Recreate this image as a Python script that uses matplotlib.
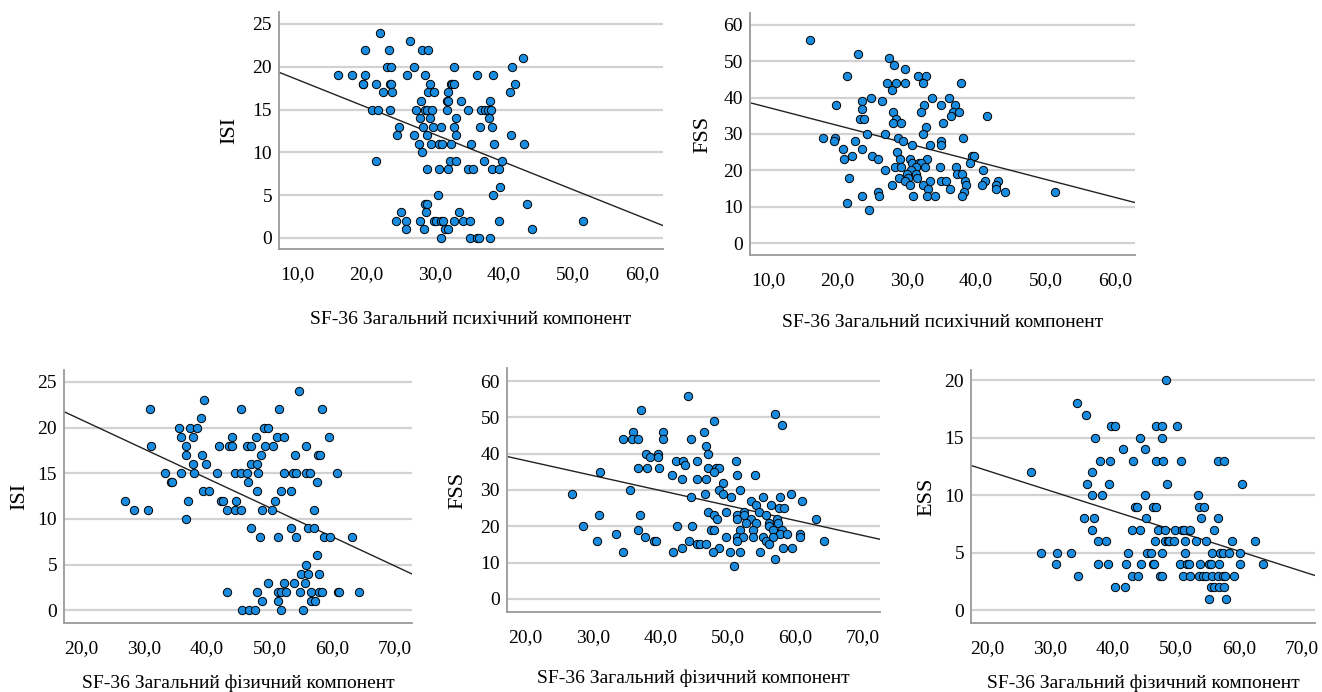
import numpy as np
import matplotlib.pyplot as plt
from matplotlib.ticker import FuncFormatter

plt.rcParams['font.family'] = ['Liberation Serif', 'DejaVu Serif']

# SF-36 mental component (x) vs ISI (y)
mcs_isi = [(22.0, 24), (26.4, 23), (19.9, 22), (23.3, 22), (28.1, 22), (29.0, 22), (42.8, 21),
           (23.0, 20), (23.6, 20), (26.9, 20), (32.8, 20), (41.2, 20),
           (16.0, 19), (18.0, 19), (19.8, 19), (25.9, 19), (28.6, 19), (36.1, 19), (38.4, 19),
           (19.5, 18), (19.6, 18), (21.4, 18), (23.4, 18), (23.6, 18), (29.2, 18), (32.3, 18),
           (32.5, 18), (32.8, 18), (41.5, 18),
           (22.5, 17), (23.7, 17), (29.0, 17), (29.8, 17), (31.9, 17), (40.8, 17),
           (28.0, 16), (31.7, 16), (31.9, 16), (33.7, 16), (38.0, 16),
           (20.8, 15), (21.8, 15), (23.5, 15), (27.2, 15), (28.6, 15), (28.9, 15), (29.6, 15),
           (31.7, 15), (34.8, 15), (36.7, 15), (37.2, 15), (37.7, 15), (38.1, 15),
           (27.8, 14), (29.3, 14), (33.0, 14), (37.8, 14),
           (24.8, 13), (28.2, 13), (29.7, 13), (30.8, 13), (32.7, 13), (36.5, 13), (38.2, 13),
           (24.5, 12), (26.9, 12), (28.8, 12), (33.0, 12), (41.0, 12),
           (27.6, 11), (29.4, 11), (30.6, 11), (31.0, 11), (32.3, 11), (35.2, 11), (38.6, 11),
           (42.9, 11), (28.1, 10),
           (21.4, 9), (32.2, 9), (33.1, 9), (37.1, 9), (39.7, 9),
           (28.9, 8), (30.6, 8), (31.8, 8), (34.8, 8), (35.5, 8), (38.2, 8), (39.3, 8),
           (39.4, 6), (30.4, 5), (38.4, 5), (28.6, 4), (28.8, 4), (43.3, 4),
           (25.0, 3), (28.7, 3), (33.4, 3),
           (24.3, 2), (25.8, 2), (27.8, 2), (29.8, 2), (30.2, 2), (30.8, 2), (31.1, 2), (32.7, 2),
           (34.1, 2), (35.1, 2), (39.3, 2), (51.4, 2),
           (25.8, 1), (28.4, 1), (31.5, 1), (31.8, 1), (44.1, 1),
           (30.9, 0), (35.0, 0), (36.1, 0), (36.3, 0), (38.0, 0)]

# SF-36 mental component (x) vs FSS (y)
mcs_fss = [(16.0, 56), (23.0, 52), (27.5, 51), (28.2, 49), (29.7, 48), (21.4, 46), (31.6, 46),
           (32.7, 46), (27.2, 44), (28.5, 44), (29.7, 44), (32.3, 44), (37.8, 44), (27.8, 42),
           (24.8, 40), (33.7, 40), (36.1, 40), (23.6, 39), (26.4, 39),
           (19.8, 38), (32.5, 38), (34.9, 38), (37.0, 38), (23.5, 37),
           (28.0, 36), (32.0, 36), (36.7, 36), (37.5, 36), (36.4, 35), (41.5, 35),
           (23.3, 34), (23.8, 34), (28.5, 34), (28.0, 33), (29.1, 33), (35.2, 33), (32.8, 32),
           (24.3, 30), (26.9, 30), (32.3, 30),
           (17.9, 29), (19.6, 29), (28.75, 29), (38.1, 29),
           (19.5, 28), (22.6, 28), (29.4, 28), (35.0, 28),
           (30.8, 27), (33.4, 27), (35.0, 27), (20.8, 26), (23.5, 26), (28.6, 25),
           (22.1, 24), (25.0, 24), (39.4, 24), (39.7, 24),
           (20.9, 23), (25.8, 23), (29.0, 23), (30.4, 23), (32.9, 23),
           (30.7, 22), (31.8, 22), (32.0, 22), (39.1, 22),
           (28.3, 21), (29.2, 21), (31.4, 21), (32.6, 21), (34.8, 21), (37.1, 21),
           (26.9, 20), (30.6, 20), (41.0, 20),
           (30.0, 19), (31.3, 19), (37.2, 19), (38.0, 19),
           (21.7, 18), (28.9, 18), (30.2, 18), (31.5, 18),
           (29.7, 17), (33.4, 17), (35.0, 17), (35.6, 17), (38.4, 17), (41.25, 17), (43.2, 17),
           (27.8, 16), (30.5, 16), (32.4, 16), (38.6, 16), (40.8, 16), (42.8, 16),
           (33.1, 15), (36.2, 15), (42.8, 15),
           (25.9, 14), (38.2, 14), (44.1, 14), (51.3, 14),
           (23.5, 13), (26.0, 13), (30.9, 13), (32.9, 13), (34.0, 13), (38.0, 13),
           (21.4, 11), (24.5, 9)]

# SF-36 physical component (x) vs ISI (y)
pcs_isi = [(54.7, 24), (39.6, 23), (31.0, 22), (45.4, 22), (51.5, 22), (58.4, 22), (39.1, 21),
           (35.6, 20), (37.3, 20), (38.4, 20), (49.2, 20), (49.8, 20),
           (35.9, 19), (37.9, 19), (44.1, 19), (47.8, 19), (51.2, 19), (52.3, 19), (59.5, 19),
           (31.1, 18), (36.7, 18), (42.0, 18), (43.5, 18), (44.1, 18), (46.4, 18), (47.0, 18),
           (49.3, 18), (50.5, 18), (55.8, 18),
           (36.7, 17), (39.3, 17), (48.7, 17), (54.1, 17), (57.8, 17), (58.1, 17),
           (37.8, 16), (39.9, 16), (47.0, 16), (48.0, 16),
           (33.4, 15), (36.0, 15), (38.0, 15), (41.7, 15), (44.5, 15), (45.4, 15), (46.5, 15),
           (48.2, 15), (52.4, 15), (53.8, 15), (54.2, 15), (55.9, 15), (56.5, 15), (60.7, 15),
           (34.4, 14), (34.5, 14), (46.6, 14), (57.5, 14),
           (39.5, 13), (40.4, 13), (48.0, 13), (51.8, 13), (53.4, 13),
           (27.0, 12), (37.1, 12), (42.3, 12), (42.6, 12), (44.7, 12), (50.9, 12),
           (28.5, 11), (30.6, 11), (43.2, 11), (44.5, 11), (45.4, 11), (48.8, 11), (50.4, 11),
           (57.1, 11), (36.8, 10),
           (47.1, 9), (53.4, 9), (56.2, 9), (57.1, 9),
           (48.5, 8), (51.4, 8), (54.2, 8), (58.7, 8), (59.6, 8), (63.2, 8),
           (57.6, 6), (55.8, 5), (55.0, 4), (56.2, 4), (57.9, 4),
           (49.7, 3), (52.4, 3), (53.9, 3), (55.7, 3),
           (43.2, 2), (48.1, 2), (51.3, 2), (51.8, 2), (52.6, 2), (54.8, 2), (56.7, 2), (57.9, 2),
           (58.3, 2), (60.9, 2), (61.0, 2), (64.3, 2),
           (48.8, 1), (51.3, 1), (56.7, 1), (57.3, 1),
           (45.7, 0), (46.7, 0), (47.7, 0), (51.8, 0), (55.3, 0)]

# SF-36 physical component (x) vs FSS (y)
pcs_fss = [(44.1, 56), (37.1, 52), (57.0, 51), (47.9, 49), (58.0, 48),
           (36.0, 46), (40.4, 46), (46.4, 46),
           (34.4, 44), (35.8, 44), (36.7, 44), (40.4, 44), (44.5, 44), (46.7, 42),
           (37.8, 40), (39.6, 40), (47.1, 40), (38.4, 39), (39.7, 39),
           (42.3, 38), (43.4, 38), (45.4, 38), (51.2, 38), (43.7, 37),
           (36.7, 36), (38.0, 36), (39.8, 36), (47.1, 36), (48.3, 36), (48.7, 36),
           (31.1, 35), (47.9, 35), (41.7, 34), (51.4, 34), (54.0, 34),
           (43.2, 33), (45.4, 33), (46.8, 33), (49.2, 32),
           (35.5, 30), (48.7, 30), (51.8, 30),
           (26.9, 29), (46.6, 29), (49.2, 29), (59.4, 29),
           (44.5, 28), (50.4, 28), (55.2, 28), (57.7, 28),
           (53.4, 27), (60.9, 27), (54.2, 26), (56.3, 26), (57.6, 25), (58.3, 25),
           (47.1, 24), (49.7, 24), (52.4, 24), (54.6, 24),
           (30.9, 23), (37.0, 23), (47.9, 23), (51.3, 23), (52.4, 23), (55.7, 23),
           (48.4, 22), (51.4, 22), (53.4, 22), (57.3, 22), (63.1, 22),
           (52.6, 21), (54.1, 21), (56.1, 21), (57.4, 21),
           (28.5, 20), (42.5, 20), (44.7, 20), (56.0, 20),
           (36.7, 19), (47.5, 19), (48.0, 19), (51.8, 19), (53.7, 19), (56.7, 19), (58.0, 19),
           (33.4, 18), (57.7, 18), (58.7, 18), (60.6, 18),
           (37.7, 17), (49.7, 17), (51.3, 17), (52.2, 17), (53.7, 17), (55.2, 17), (56.7, 17),
           (60.7, 17),
           (30.6, 16), (39.0, 16), (39.4, 16), (44.2, 16), (51.3, 16), (55.7, 16), (64.2, 16),
           (45.4, 15), (45.8, 15), (46.7, 15), (56.1, 15),
           (43.2, 14), (48.6, 14), (58.1, 14), (59.5, 14),
           (34.5, 13), (41.9, 13), (47.8, 13), (50.3, 13), (51.8, 13), (54.7, 13),
           (57.0, 11), (50.9, 9)]

# SF-36 physical component (x) vs ESS (y)
pcs_ess = [(48.4, 20), (34.3, 18), (35.7, 17),
           (39.6, 16), (40.3, 16), (46.8, 16), (47.7, 16), (50.2, 16),
           (37.1, 15), (44.3, 15), (47.7, 15), (41.5, 14), (45.1, 14),
           (37.9, 13), (39.5, 13), (43.2, 13), (46.8, 13), (48.0, 13), (50.8, 13), (56.7, 13),
           (57.7, 13), (27.0, 12), (36.6, 12),
           (35.9, 11), (39.4, 11), (48.5, 11), (60.5, 11),
           (36.7, 10), (38.3, 10), (45.1, 10), (53.5, 10),
           (43.4, 9), (43.8, 9), (46.3, 9), (46.8, 9), (53.6, 9), (54.4, 9),
           (35.4, 8), (36.9, 8), (45.2, 8), (53.9, 8), (56.6, 8),
           (36.6, 7), (43.0, 7), (44.3, 7), (47.2, 7), (48.2, 7), (49.9, 7), (50.95, 7),
           (51.2, 7), (52.2, 7), (56.0, 7),
           (37.6, 6), (38.9, 6), (46.6, 6), (48.3, 6), (48.7, 6), (48.9, 6), (49.6, 6),
           (51.5, 6), (53.1, 6), (54.8, 6), (58.9, 6), (62.6, 6),
           (28.5, 5), (31.1, 5), (33.3, 5), (42.3, 5), (45.4, 5), (46.0, 5), (47.8, 5),
           (51.4, 5), (55.8, 5), (57.0, 5), (57.4, 5), (58.4, 5), (60.2, 5),
           (30.9, 4), (37.6, 4), (39.2, 4), (42.1, 4), (44.5, 4), (46.3, 4), (46.5, 4),
           (50.6, 4), (51.7, 4), (52.1, 4), (53.8, 4), (55.3, 4), (55.6, 4), (56.9, 4),
           (60.2, 4), (63.8, 4),
           (34.4, 3), (43.0, 3), (44.0, 3), (47.5, 3), (47.8, 3), (51.1, 3), (52.3, 3),
           (53.6, 3), (54.3, 3), (54.8, 3), (55.7, 3), (56.6, 3), (57.4, 3), (57.8, 3),
           (59.2, 3),
           (40.3, 2), (41.9, 2), (55.6, 2), (56.0, 2), (56.8, 2), (57.7, 2),
           (55.3, 1), (58.0, 1)]

mcs_label = 'SF-36 Загальний психічний компонент'
pcs_label = 'SF-36 Загальний фізичний компонент'
isi_ticks = [0, 5, 10, 15, 20, 25]
fss_ticks = [0, 10, 20, 30, 40, 50, 60]
ess_ticks = [0, 5, 10, 15, 20]
mcs_ticks = [10, 20, 30, 40, 50, 60]
pcs_ticks = [20, 30, 40, 50, 60, 70]

W, H = 1322, 692
fig = plt.figure(figsize=(W / 100, H / 100), dpi=100)

dot_color = '#1a8ce0'
grid_color = '#d2d2d2'
spine_color = '#9a9a9a'
comma = FuncFormatter(lambda v, pos: f'{v:.1f}'.replace('.', ','))


def panel(box, pts, xlim, ylim, xticks, yticks, xlabel, ylabel, xlab_dy, ylab_dx):
    left, top, right, bottom = box
    ax = fig.add_axes([left / W, 1 - bottom / H, (right - left) / W, (bottom - top) / H])
    x, y = np.array(pts, dtype=float).T
    ax.set_xlim(*xlim)
    ax.set_ylim(*ylim)
    ax.set_xticks(xticks)
    ax.set_yticks(yticks)
    ax.xaxis.set_major_formatter(comma)
    ax.grid(axis='y', color=grid_color, linewidth=1.6, zorder=0)
    ax.set_axisbelow(True)
    for s in ('top', 'right'):
        ax.spines[s].set_visible(False)
    for s in ('left', 'bottom'):
        ax.spines[s].set_color(spine_color)
        ax.spines[s].set_linewidth(1.3)
    ax.tick_params(axis='x', length=0, pad=12, labelsize=14)
    ax.tick_params(axis='y', length=0, pad=5, labelsize=14)

    # least squares line across the whole x range
    k, b = np.polyfit(x, y, 1)
    xs = np.array(xlim)
    ax.plot(xs, k * xs + b, color='#222222', linewidth=1.0, zorder=2)
    ax.scatter(x, y, s=36, color=dot_color, edgecolor='black', linewidth=0.7, zorder=3,
               clip_on=False)

    ax.set_xlabel(xlabel, fontsize=14)
    ax.set_ylabel(ylabel, fontsize=16)
    ax.xaxis.set_label_coords(0.5, -xlab_dy / (bottom - top))
    ax.yaxis.set_label_coords(-ylab_dx / (right - left), 0.5)
    ax.xaxis.label.set_va('center')
    ax.yaxis.label.set_va('center')
    return ax


panel((279, 12, 663, 249), mcs_isi, (7.4, 63.0), (-1.3, 26.4), mcs_ticks, isi_ticks,
      mcs_label, 'ISI', 71, 49)
panel((750, 13, 1135, 255), mcs_fss, (7.4, 62.9), (-3.3, 63.3), mcs_ticks, fss_ticks,
      mcs_label, 'FSS', 67, 47)
panel((64, 370, 412, 623), pcs_isi, (17.3, 72.7), (-1.4, 26.3), pcs_ticks, isi_ticks,
      pcs_label, 'ISI', 60, 44)
panel((507, 368, 880, 612), pcs_fss, (17.3, 72.5), (-3.6, 63.6), pcs_ticks, fss_ticks,
      pcs_label, 'FSS', 66, 49)
panel((971, 370, 1315, 623), pcs_ess, (17.4, 72.1), (-1.1, 20.9), pcs_ticks, ess_ticks,
      pcs_label, 'ESS', 60, 44)

fig.savefig('out.png', dpi=100, facecolor='white')
